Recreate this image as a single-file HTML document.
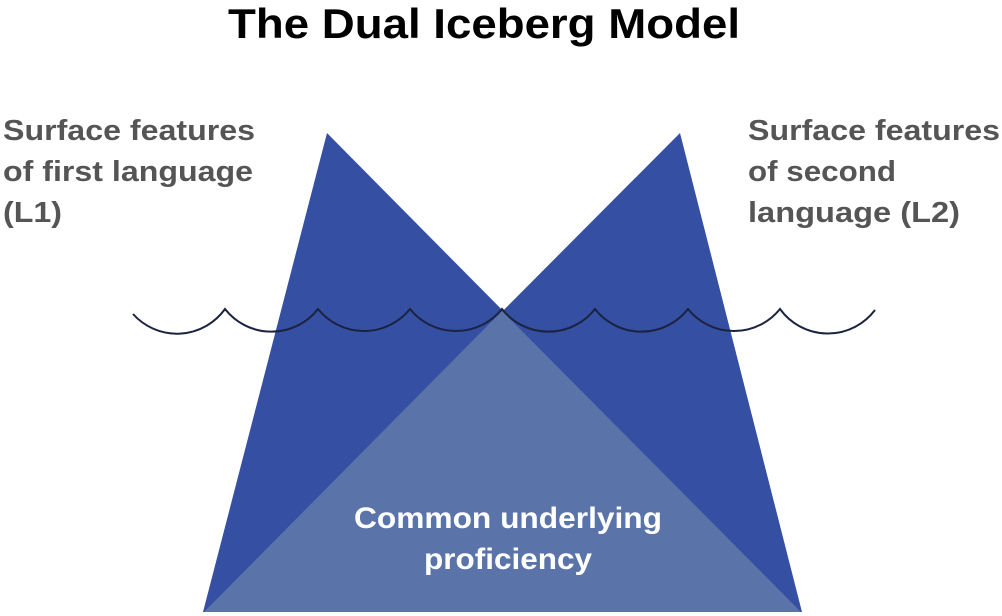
<!DOCTYPE html>
<html><head><style>
html,body{margin:0;padding:0;background:#fff;}
body{width:1002px;height:616px;overflow:hidden;position:relative;font-family:"Liberation Sans",sans-serif;}
</style></head><body>
<svg width="1002" height="616" viewBox="0 0 1002 616" xmlns="http://www.w3.org/2000/svg" style="position:absolute;left:0;top:0">
<polygon points="327,133 203,612 801,612" fill="#3550a3"/>
<polygon points="680,133 802,612 203,612" fill="#3550a3"/>
<polygon points="502,311 204,612 801,612" fill="#5a74a9"/>
<path d="M133,314 A59 59 0 0 0 225,309 A59 59 0 0 0 318,309 A59 59 0 0 0 410,309 A59 59 0 0 0 502,309 A59 59 0 0 0 595,309 A59 59 0 0 0 688,309 A59 59 0 0 0 780,309 A59 59 0 0 0 875,310" fill="none" stroke="#1c2340" stroke-width="2"/>
<text x="228" y="38" font-size="42" font-weight="bold" fill="#000" textLength="512" lengthAdjust="spacingAndGlyphs">The Dual Iceberg Model</text>
<g font-size="29" fill="#555" font-weight="bold">
<text x="3" y="140" textLength="252" lengthAdjust="spacingAndGlyphs">Surface features</text>
<text x="3" y="181" textLength="250" lengthAdjust="spacingAndGlyphs">of first language</text>
<text x="3" y="222" textLength="59" lengthAdjust="spacingAndGlyphs">(L1)</text>
<text x="748" y="140" textLength="252" lengthAdjust="spacingAndGlyphs">Surface features</text>
<text x="748" y="181" textLength="148" lengthAdjust="spacingAndGlyphs">of second</text>
<text x="748" y="222" textLength="212" lengthAdjust="spacingAndGlyphs">language (L2)</text>
</g>
<g font-size="30" fill="#fff" font-weight="bold">
<text x="354" y="528" textLength="308" lengthAdjust="spacingAndGlyphs">Common underlying</text>
<text x="424" y="569" textLength="168" lengthAdjust="spacingAndGlyphs">proficiency</text>
</g>
</svg>
</body></html>
